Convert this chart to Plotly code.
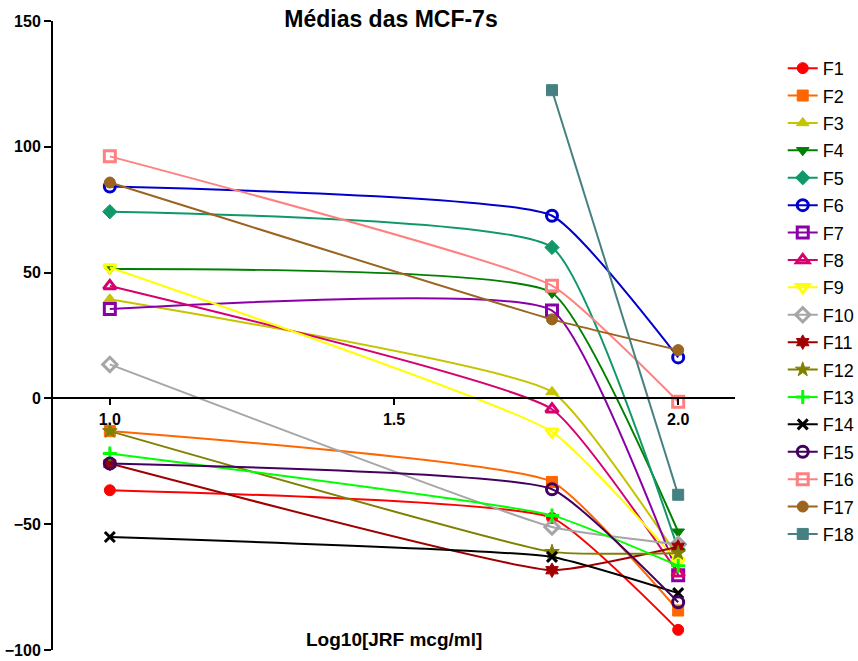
import plotly.graph_objects as go

x_vals = [1.0, 1.778, 2.0]
series_names = ["F1", "F2", "F3", "F4", "F5", "F6", "F7", "F8", "F9",
                "F10", "F11", "F12", "F13", "F14", "F15", "F16", "F17", "F18"]

F1 = [-36.5, -47.5, -92.0]
F2 = [-13.0, -33.2, -84.3]
F3 = [39.4, 2.6, -63.0]
F4 = [51.4, 41.9, -53.0]
F5 = [74.2, 60.0, -60.0]
F6 = [84.2, 72.6, 16.3]
F7 = [35.5, 34.9, -70.3]
F8 = [44.7, -4.3, -69.5]
F9 = [52.0, -13.3, -65.0]
F10 = [13.5, -51.1, -58.0]
F11 = [-25.9, -68.3, -59.0]
F12 = [-13.0, -61.0, -61.5]
F13 = [-21.9, -46.5, -66.5]
F14 = [-55.1, -63.0, -77.4]
F15 = [-25.9, -36.1, -81.0]
F16 = [96.2, 44.8, -1.3]
F17 = [85.8, 31.4, 19.2]
F18 = [None, 122.5, -38.3]

values = [F1, F2, F3, F4, F5, F6, F7, F8, F9, F10, F11, F12, F13, F14, F15, F16, F17, F18]

colors = ["#FF0000", "#FF6600", "#C4C400", "#008000", "#109868", "#0000CC",
          "#8A00A8", "#D6006E", "#FFFF00", "#A6A6A6", "#A00000", "#808000",
          "#00FF00", "#000000", "#44005E", "#FF8080", "#9B6420", "#468080"]
symbols = ["circle", "square", "triangle-up", "triangle-down", "diamond", "circle-open",
           "square-open", "triangle-up-open", "triangle-down-open", "diamond-open",
           "hexagram", "star", "cross-thin", "x-thin", "circle-open", "square-open",
           "circle", "square"]

fig = go.Figure()
for i, (name, vals) in enumerate(zip(series_names, values)):
    c = colors[i]
    sym = symbols[i]
    thin = sym in ("cross-thin", "x-thin")
    fig.add_trace(go.Scatter(
        x=x_vals, y=vals, name=name, mode="lines+markers",
        line=dict(color=c, width=2, shape="spline", smoothing=0.4),
        marker=dict(symbol=sym, size=11 if not thin else 10, color=c,
                    line=dict(color=c, width=3 if (thin or "open" in sym) else 1)),
        legendgroup=name,
        connectgaps=False,
    ))

fig.update_layout(
    width=858, height=661,
    margin=dict(l=53, r=123, t=21, b=11, autoexpand=False),
    plot_bgcolor="white", paper_bgcolor="white",
    font=dict(family="Liberation Sans, Arial, sans-serif", color="black"),
    title=dict(text="<b>Médias das MCF-7s</b>", x=0.4557, xanchor="center",
               y=0.971, yanchor="middle", yref="container",
               font=dict(size=23, color="black")),
    xaxis=dict(range=[0.9, 2.1], tickvals=[1.0, 1.5, 2.0], ticktext=["1.0", "1.5", "2.0"],
               anchor="free", position=0.4, showline=True, linecolor="black", linewidth=2,
               ticks="outside", ticklen=6, tickwidth=2, tickcolor="black",
               showgrid=False, zeroline=False, automargin=False,
               tickfont=dict(size=16, weight="bold", color="black")),
    yaxis=dict(range=[-100, 150], tickvals=[-100, -50, 0, 50, 100, 150],
               showline=True, linecolor="black", linewidth=2,
               ticks="outside", ticklen=7, tickwidth=2, tickcolor="black",
               showgrid=False, zeroline=False, automargin=False,
               tickfont=dict(size=16, weight="bold", color="black")),
    legend=dict(x=1.07, xanchor="left", y=0.954, yanchor="top",
                font=dict(size=18, color="black"), tracegroupgap=1,
                bgcolor="rgba(0,0,0,0)"),
    showlegend=True,
)

fig.add_annotation(text="<b>Log10[JRF mcg/ml]</b>", xref="paper", yref="paper",
                   x=0.5, y=0.016, xanchor="center", yanchor="middle",
                   showarrow=False, font=dict(size=19, color="black"))

fig.write_html("out.html", config={"displayModeBar": False},
               post_script="document.body.style.margin='0';document.body.style.overflow='hidden';")
